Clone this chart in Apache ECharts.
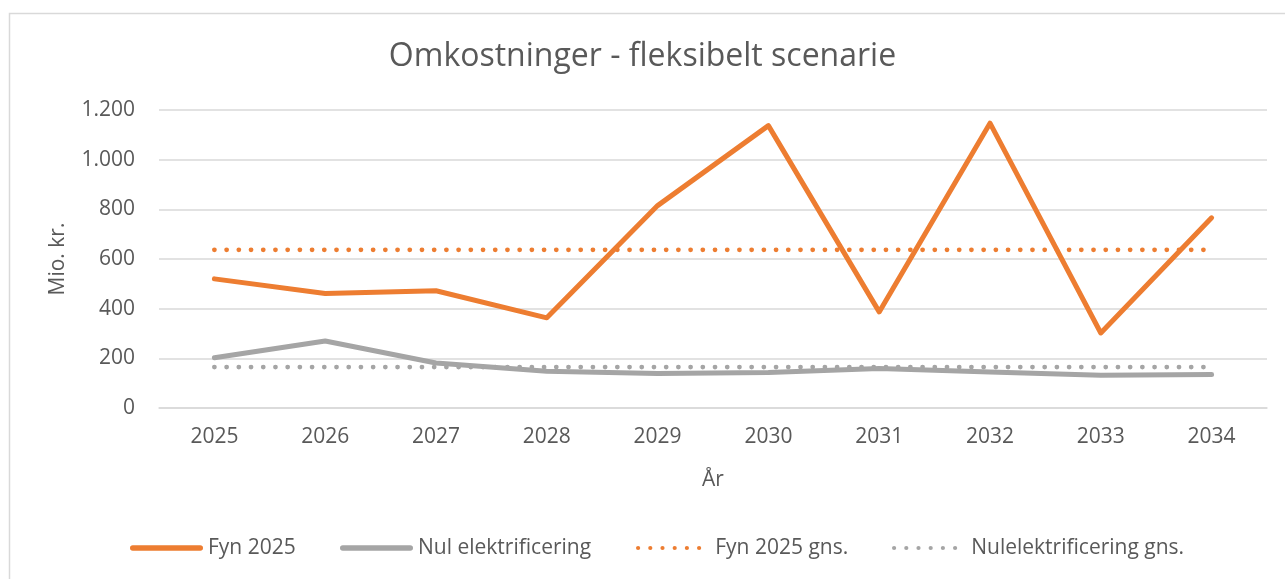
<!DOCTYPE html>
<html>
<head>
<meta charset="utf-8">
<script src="https://cdn.jsdelivr.net/npm/echarts@6/dist/echarts.min.js"></script>
<style>
html,body{margin:0;padding:0;background:#fff;}
#chart{width:1285px;height:579px;}
</style>
</head>
<body>
<div id="chart"></div>
<script>
const years = ['2025','2026','2027','2028','2029','2030','2031','2032','2033','2034'];
const fyn2025 = [520, 461, 472, 363, 815, 1137, 387, 1147, 302, 766];
const nulElektrificering = [202, 270, 181, 148, 139, 143, 159, 145, 132, 135];
const fynGns = [637, 637, 637, 637, 637, 637, 637, 637, 637, 637];
const nulGns = [165, 165, 165, 165, 165, 165, 165, 165, 165, 165];
const seriesNames = ['Fyn 2025', 'Nul elektrificering', 'Fyn 2025 gns.', 'Nulelektrificering gns.'];

const FONT = 'Open Sans';
const TXT = '#595959';
const ORANGE = '#ed7d31';
const GREY = '#a5a5a5';
const chart = echarts.init(document.getElementById('chart'));
const fmt = v => v.toLocaleString('da-DK');

// legend icons
const solidIcon = 'path://M2.75,0 L70.25,0 A2.75,2.75 0 0 1 70.25,5.5 L2.75,5.5 A2.75,2.75 0 0 1 2.75,0 Z';
let dotPath = 'path://';
for (let i = 0; i < 6; i++) {
  const cx = 2.1 + i * 12.2, r = 2.1;
  dotPath += 'M' + (cx - r) + ',' + r + ' A' + r + ',' + r + ' 0 1 0 ' + (cx + r) + ',' + r +
             ' A' + r + ',' + r + ' 0 1 0 ' + (cx - r) + ',' + r + ' Z ';
}

function lineSeries(name, data, color, dotted) {
  return {
    name: name, type: 'line', data: data, symbol: 'none', smooth: false,
    lineStyle: dotted
      ? { color: color, width: 4.8, type: [0.01, 12.2], cap: 'round' }
      : { color: color, width: 5, cap: 'round', join: 'round' },
    itemStyle: { color: color },
    emphasis: { disabled: true },
    z: dotted ? 2 : 3
  };
}
function legendAt(left, name, icon, w, h, gapPad) {
  return {
    left: left, top: 537, padding: 0, itemWidth: w, itemHeight: h,
    icon: icon, selectedMode: false,
    textStyle: { fontFamily: FONT, fontSize: 21, lineHeight: 22, color: TXT, padding: [0, 0, 0, gapPad] },
    data: [name]
  };
}
chart.setOption({
  animation: false,
  backgroundColor: '#fff',
  graphic: [{
    type: 'rect', left: 7, top: 11, silent: true,
    shape: { width: 1300, height: 600 },
    style: { fill: 'none', stroke: '#d9d9d9', lineWidth: 1.5 }
  }],
  title: {
    text: 'Omkostninger - fleksibelt scenarie',
    left: 'center', top: 36,
    textStyle: { fontFamily: FONT, fontSize: 32, fontWeight: 'normal', color: TXT }
  },
  grid: { left: 159, right: 18, top: 110, bottom: 171, containLabel: false },
  legend: [
    legendAt(130, seriesNames[0], solidIcon, 73, 5.5, 0),
    legendAt(340, seriesNames[1], solidIcon, 73, 5.5, 0),
    legendAt(636, seriesNames[2], dotPath, 65.2, 4.2, 9),
    legendAt(892, seriesNames[3], dotPath, 65.2, 4.2, 9)
  ],
  xAxis: {
    type: 'category', data: years, boundaryGap: true,
    name: 'År', nameLocation: 'middle', nameGap: 62,
    nameTextStyle: { fontFamily: FONT, fontSize: 21, color: TXT },
    axisLine: { show: true, lineStyle: { color: '#d9d9d9', width: 1.5 } },
    axisTick: { show: false },
    axisLabel: { fontFamily: FONT, fontSize: 21, color: TXT, margin: 19 }
  },
  yAxis: {
    type: 'value', min: 0, max: 1200, interval: 200,
    name: 'Mio. kr.', nameLocation: 'middle', nameGap: 90, nameRotate: 90,
    nameTextStyle: { fontFamily: FONT, fontSize: 21, color: TXT },
    axisLine: { show: false }, axisTick: { show: false },
    axisLabel: { fontFamily: FONT, fontSize: 21, color: TXT, margin: 24, formatter: fmt },
    splitLine: { lineStyle: { color: '#d9d9d9', width: 1.5 } }
  },
  series: [
    lineSeries(seriesNames[0], fyn2025, ORANGE, false),
    lineSeries(seriesNames[1], nulElektrificering, GREY, false),
    lineSeries(seriesNames[2], fynGns, ORANGE, true),
    lineSeries(seriesNames[3], nulGns, GREY, true)
  ]
});
</script>
</body>
</html>
